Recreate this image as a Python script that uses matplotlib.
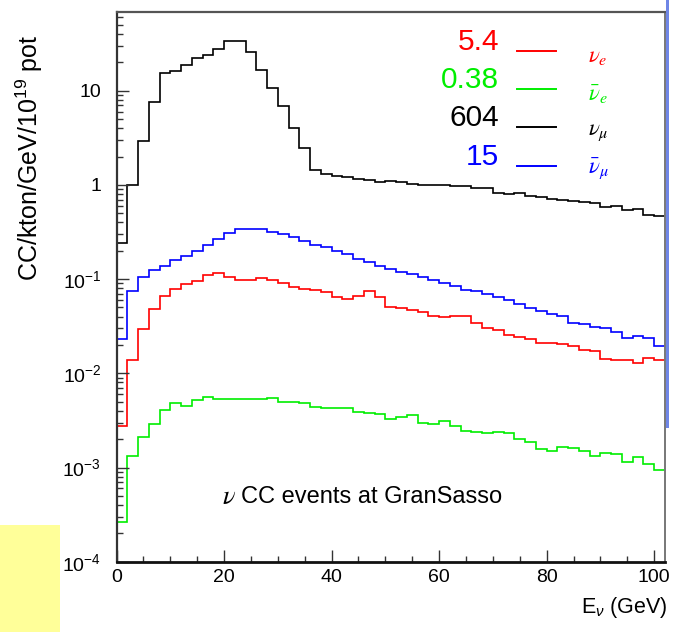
import numpy as np
import matplotlib
matplotlib.use("Agg")
import matplotlib.pyplot as plt
from matplotlib.patches import Rectangle
from matplotlib.ticker import FixedLocator, MultipleLocator, NullFormatter, LogLocator

plt.rcParams["font.family"] = ["Liberation Sans", "DejaVu Sans"]
plt.rcParams["mathtext.fontset"] = "custom"
plt.rcParams["mathtext.rm"] = "Liberation Sans"
plt.rcParams["mathtext.it"] = "Liberation Sans:italic"
plt.rcParams["mathtext.bf"] = "Liberation Sans:bold"

# Energy binning: 2 GeV bins from 0 to 102 GeV
bin_edges = np.arange(0, 104, 2)

# CC events / kton / GeV / 1e19 pot per bin
nu_mu = [0.24, 1.0, 2.9, 7.6, 15.5, 16.0, 18.6, 22.0, 23.9, 28.0,
         34.0, 33.5, 25.6, 16.6, 10.8, 6.8, 4.05, 2.48, 1.44, 1.31,
         1.25, 1.20, 1.16, 1.13, 1.07, 1.10, 1.07, 1.03, 1.00, 1.00,
         1.00, 0.98, 0.97, 0.927, 0.92, 0.826, 0.81, 0.82, 0.768, 0.75,
         0.713, 0.70, 0.674, 0.66, 0.65, 0.578, 0.60, 0.542, 0.55, 0.48,
         0.47]
nu_mu_bar = [0.023, 0.0748, 0.1045, 0.125, 0.139, 0.160, 0.176, 0.20, 0.229, 0.265,
             0.306, 0.338, 0.343, 0.338, 0.318, 0.301, 0.278, 0.256, 0.232, 0.218,
             0.20, 0.183, 0.163, 0.151, 0.139, 0.127, 0.119, 0.112, 0.106, 0.098,
             0.090, 0.084, 0.0765, 0.074, 0.069, 0.0646, 0.060, 0.0548, 0.0493, 0.0455,
             0.0426, 0.0406, 0.0345, 0.0333, 0.0308, 0.0303, 0.0272, 0.0239, 0.0251, 0.0235,
             0.0197]
nu_e = [0.00276, 0.0138, 0.0297, 0.0485, 0.0656, 0.0785, 0.088, 0.0955, 0.110, 0.116,
        0.1045, 0.0977, 0.0977, 0.1035, 0.098, 0.090, 0.083, 0.0785, 0.077, 0.0735,
        0.065, 0.0615, 0.0656, 0.0753, 0.065, 0.0509, 0.049, 0.047, 0.0444, 0.0409,
        0.0399, 0.0405, 0.0409, 0.034, 0.030, 0.0289, 0.0255, 0.0241, 0.023, 0.0211,
        0.0208, 0.0206, 0.0197, 0.0175, 0.0171, 0.0143, 0.014, 0.014, 0.0129, 0.0144,
        0.0137]
nu_e_bar = [0.000266, 0.00132, 0.00212, 0.00288, 0.00405, 0.0048, 0.0045, 0.0052, 0.00556, 0.0053,
            0.0053, 0.0053, 0.0053, 0.0054, 0.0055, 0.0049, 0.0049, 0.00487, 0.00442, 0.0043,
            0.0043, 0.00425, 0.00385, 0.0038, 0.00372, 0.00327, 0.0034, 0.0036, 0.0030, 0.0029,
            0.0031, 0.00276, 0.00244, 0.00237, 0.0023, 0.0024, 0.0023, 0.00201, 0.00188, 0.00156,
            0.0015, 0.00166, 0.0016, 0.0015, 0.00133, 0.00144, 0.0014, 0.00115, 0.00128, 0.00108,
            0.00094]

# Legend entries: total rates and flavour labels
totals = ["5.4", "0.38", "604", "15"]
flavours = [r"$\nu_e$", r"$\bar{\nu}_e$", r"$\nu_\mu$", r"$\bar{\nu}_\mu$"]
colors = ["#ff0000", "#00ee00", "#000000", "#0000ff"]
series = [nu_e, nu_e_bar, nu_mu, nu_mu_bar]

y_ticks = [1e-4, 1e-3, 1e-2, 1e-1, 1, 10]
y_ticklabels = [r"$10^{-4}$", r"$10^{-3}$", r"$10^{-2}$", r"$10^{-1}$", "1", "10"]
x_ticks = [0, 20, 40, 60, 80, 100]

W, H = 681, 632
fig = plt.figure(figsize=(W / 100, H / 100), dpi=100)
ax_w = 665 - 116.5
ax_h = 561.7 - 12.3
ax = fig.add_axes([116.5 / W, 1 - 561.7 / H, ax_w / W, ax_h / H])

for vals, c in zip(series, colors):
    ax.stairs(vals, bin_edges, color=c, lw=1.2, baseline=None)

ax.set_yscale("log")
ax.set_xlim(0, 102)
ax.set_ylim(1e-4, 68)

ax.yaxis.set_major_locator(FixedLocator(y_ticks))
ax.set_yticklabels(y_ticklabels)
ax.yaxis.set_minor_locator(LogLocator(base=10, subs=np.arange(2, 10)))
ax.yaxis.set_minor_formatter(NullFormatter())
ax.xaxis.set_major_locator(FixedLocator(x_ticks))
ax.xaxis.set_minor_locator(MultipleLocator(5))

ax.tick_params(axis="both", which="both", direction="in", top=False, right=False,
               labelsize=14, colors="#333333", labelcolor="black")
ax.tick_params(axis="both", which="major", length=8.5, width=1.0)
ax.tick_params(axis="both", which="minor", length=4.5, width=1.0)
ax.tick_params(axis="y", which="major", pad=11)
ax.tick_params(axis="x", which="major", pad=5)

ax.spines["left"].set_color("#333333")
ax.spines["left"].set_linewidth(1.6)
ax.spines["bottom"].set_color("#111111")
ax.spines["bottom"].set_linewidth(2.0)
ax.spines["top"].set_color("#555555")
ax.spines["top"].set_linewidth(1.6)
ax.spines["right"].set_color("#777777")
ax.spines["right"].set_linewidth(1.4)

ax.set_ylabel(r"CC/kton/GeV/10$^{19}$ pot", fontsize=18)
ax.yaxis.set_label_coords((45 - 116.5) / ax_w, (561.7 - 158) / ax_h)

ax.text(1.004, -0.083, r"E$_{\nu}$ (GeV)", transform=ax.transAxes,
        ha="right", va="center", fontsize=15.5)

ax.text(0.1923, 0.1178, r"$\nu$", transform=ax.transAxes, ha="left", va="center",
        fontsize=19, math_fontfamily="stix")
ax.text(0.2275, 0.1178, "CC events at GranSasso", transform=ax.transAxes,
        ha="left", va="center", fontsize=17)

# legend block: total, line sample, flavour
num_y = [0.9465, 0.8768, 0.8077, 0.7372]
line_y = [0.930, 0.8604, 0.7907, 0.7208]
lab_y = [0.922, 0.851, 0.783, 0.716]
for tot, lab, c, ny, ly, gy in zip(totals, flavours, colors, num_y, line_y, lab_y):
    ax.text(0.698, ny, tot, transform=ax.transAxes, ha="right", va="center",
            fontsize=21.5, color=c)
    ax.plot([0.7296, 0.8007], [ly, ly], transform=ax.transAxes, color=c, lw=1.4,
            clip_on=False)
    ax.text(0.860, gy, lab, transform=ax.transAxes, ha="left", va="center",
            fontsize=16.5, color=c, math_fontfamily="stix")

# page decorations around the frame
fig.patches.append(Rectangle((0, 0), 60 / W, 107 / H, transform=fig.transFigure,
                             facecolor="#ffff99", edgecolor="none", zorder=0))
fig.patches.append(Rectangle((665.7 / W, 1 - 428 / H), 3.3 / W, 428 / H,
                             transform=fig.transFigure, facecolor="#6f86e6",
                             edgecolor="none", zorder=5))

fig.savefig("out.png", dpi=100)
